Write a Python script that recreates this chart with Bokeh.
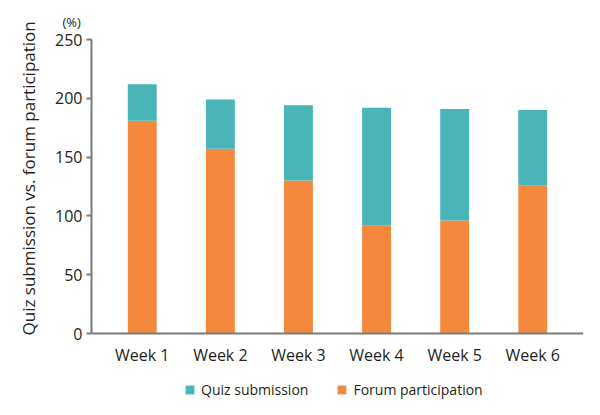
from bokeh.plotting import figure
from bokeh.models import FactorRange, Range1d, Legend, LegendItem, ColumnDataSource, Title
from bokeh.embed import file_html
from bokeh.resources import INLINE

weeks = ["Week 1", "Week 2", "Week 3", "Week 4", "Week 5", "Week 6"]
forum = [181, 157, 130, 92, 96, 126]
quiz = [31, 42, 64, 100, 95, 64]
y_ticks = [0, 50, 100, 150, 200, 250]
y_min, y_max = 0, 250

FONT = "Open Sans"
TEXT = "#231f20"
AXIS = "#7a7a7a"
ORANGE = "#f4893d"
TEAL = "#4ab5b9"

src = ColumnDataSource(data=dict(week=weeks, forum=forum, quiz=quiz))

# frame extends below the zero line to leave room for the legend
p = figure(frame_width=492, frame_height=360, output_backend="svg", toolbar_location=None,
           x_range=FactorRange(factors=weeks, range_padding=0.05),
           y_range=Range1d(-56.12, y_max),
           min_border_left=91, min_border_right=1, min_border_top=39, min_border_bottom=0)

rs = p.vbar_stack(["forum", "quiz"], x="week", width=0.37, source=src,
                  color=[ORANGE, TEAL], line_color=None)

p.grid.visible = False
p.outline_line_color = None
p.background_fill_color = "white"
p.border_fill_color = "white"

p.title = Title(text="(%)", align="left", offset=-29, text_font=FONT,
                text_font_size="13px", text_font_style="normal", text_color=TEXT,
                standoff=17)

ya = p.yaxis[0]
ya.ticker = y_ticks
ya.bounds = (y_min, y_max)
ya.axis_line_color = AXIS
ya.axis_line_width = 2
ya.major_tick_line_color = AXIS
ya.major_tick_line_width = 2
ya.major_tick_out = 5
ya.major_tick_in = 0
ya.minor_tick_line_color = None
ya.major_label_standoff = 4
ya.major_label_text_font = FONT
ya.major_label_text_font_size = "16px"
ya.major_label_text_color = TEXT

# y-axis title, aligned with the 0-250 part of the axis
p.add_layout(Title(text="Quiz submission vs. forum participation", align="left", offset=64,
                   text_font=FONT, text_font_size="17px", text_font_style="normal",
                   text_color=TEXT, standoff=25), "left")

xa = p.xaxis[0]
xa.fixed_location = 0
xa.axis_line_color = AXIS
xa.axis_line_width = 2
xa.major_tick_line_color = None
xa.minor_tick_line_color = None
xa.major_tick_out = 0
xa.major_tick_in = 0
xa.major_label_standoff = 10
xa.major_label_text_font = FONT
xa.major_label_text_font_size = "16px"
xa.major_label_text_color = TEXT

legend = Legend(items=[LegendItem(label="Quiz submission", renderers=[rs[1]]),
                       LegendItem(label="Forum participation", renderers=[rs[0]])],
                orientation="horizontal", location=(93, 0),
                label_text_font=FONT, label_text_font_size="14px", label_text_color=TEXT,
                glyph_width=11, glyph_height=11, label_standoff=6, spacing=28,
                label_height=16,
                border_line_color=None, background_fill_alpha=0, margin=0, padding=0)
p.add_layout(legend)

open("out.html", "w").write(file_html(p, INLINE))
